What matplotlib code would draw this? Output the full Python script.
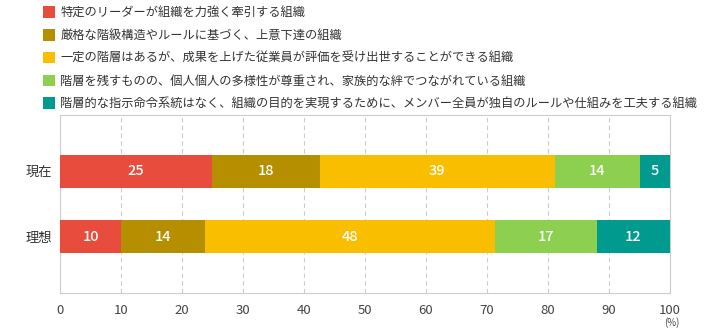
import matplotlib.pyplot as plt
from matplotlib.patches import Patch

plt.rcParams['font.family'] = ['Noto Sans CJK JP', 'DejaVu Sans']

categories = ['現在', '理想']
series_names = [
    '特定のリーダーが組織を力強く牽引する組織',
    '厳格な階級構造やルールに基づく、上意下達の組織',
    '一定の階層はあるが、成果を上げた従業員が評価を受け出世することができる組織',
    '階層を残すものの、個人個人の多様性が尊重され、家族的な絆でつながれている組織',
    '階層的な指示命令系統はなく、組織の目的を実現するために、メンバー全員が独自のルールや仕組みを工夫する組織',
]
# segment widths (%), and the printed labels
values = [
    [24.9, 10.0],
    [17.7, 13.8],
    [38.5, 47.5],
    [14.0, 16.7],
    [4.9, 12.0],
]
labels = [
    [25, 10],
    [18, 14],
    [39, 48],
    [14, 17],
    [5, 12],
]
colors = ['#E84C3D', '#B58F00', '#F9BE00', '#8DCF4E', '#009A8E']
xticks = [0, 10, 20, 30, 40, 50, 60, 70, 80, 90, 100]

fig = plt.figure(figsize=(7.19, 3.3), dpi=100)
ax = fig.add_axes([60 / 719, 1 - 293 / 330, 610 / 719, 178 / 330])

ypos = list(range(len(categories)))
left = [0.0] * len(categories)
for vals, labs, col in zip(values, labels, colors):
    bars = ax.barh(ypos, vals, left=left, height=0.5, color=col, zorder=3)
    for b, lab in zip(bars, labs):
        ax.text(b.get_x() + b.get_width() / 2, b.get_y() + b.get_height() / 2,
                str(lab), ha='center', va='center', color='white',
                fontsize=10.5, fontweight='medium', zorder=4)
    left = [l + v for l, v in zip(left, vals)]

ax.set_xlim(0, 100)
ax.set_ylim(1.86, -0.86)
ax.set_xticks(xticks)
ax.set_yticks(ypos)
ax.set_yticklabels(categories, fontsize=9.5, color='#333333')
ax.tick_params(axis='x', labelsize=9.5, colors='#444444', length=0, pad=8)
ax.tick_params(axis='y', length=0, pad=6)
ax.xaxis.grid(True, linestyle=(0, (4, 3)), color='#CCCCCC', linewidth=0.8, zorder=0)
for sp in ax.spines.values():
    sp.set_color('#CCCCCC')
    sp.set_linewidth(0.8)

fig.text(672 / 719, 1 - 323 / 330, '(%)', fontsize=7, color='#444444',
         ha='center', va='center')

handles = [Patch(facecolor=c, edgecolor='none') for c in colors]
fig.legend(handles, series_names, loc='upper left',
           bbox_to_anchor=(37 / 719, 1), frameon=False, borderaxespad=0.1,
           fontsize=8.8, handlelength=1.0, handleheight=1.1, handletextpad=0.4,
           labelspacing=0.8, labelcolor='#333333')

fig.savefig('out.png', dpi=100)
